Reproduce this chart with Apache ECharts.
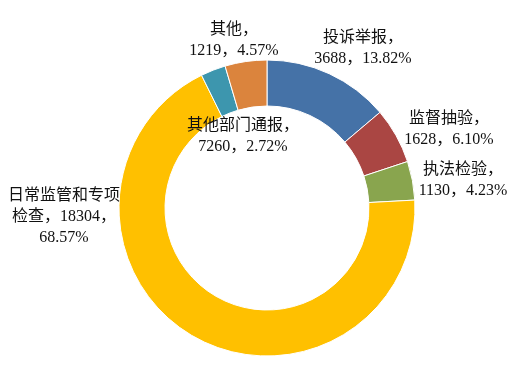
<!DOCTYPE html>
<html><head><meta charset="utf-8">
<script src="https://cdn.jsdelivr.net/npm/echarts@6/dist/echarts.min.js"></script>
<style>html,body{margin:0;padding:0;background:#fff}#c{width:520px;height:367px}</style>
</head><body><div id="c"></div>
<script>
const categories = ['投诉举报', '监督抽验', '执法检验', '日常监管和专项检查', '其他部门通报', '其他'];
const counts = ['3688', '1628', '1130', '18304', '7260', '1219'];
const percents = [13.82, 6.10, 4.23, 68.57, 2.72, 4.57];
const colors = ['#4572A7', '#AA4643', '#89A54E', '#FFC000', '#3D96AE', '#DB843D'];

const labelPos = [
  [363, 48], [449, 129], [463, 180], [64, 217], [243, 136], [234, 40]
];

function labelText(i) {
  const name = categories[i];
  const pct = percents[i].toFixed(2) + '%';
  if (name.length > 7) {
    return name.slice(0, 7) + '\n' + name.slice(7) + '，' + counts[i] + '，\n' + pct;
  }
  return name + '，\n' + counts[i] + '，' + pct;
}

const chart = echarts.init(document.getElementById('c'));
chart.setOption({
  animation: false,
  series: [{
    type: 'pie',
    center: [267, 208],
    radius: [102, 148],
    startAngle: 90,
    clockwise: true,
    data: categories.map((n, i) => ({ name: n, value: percents[i], itemStyle: { color: colors[i] } })),
    itemStyle: { borderColor: '#fff', borderWidth: 1 },
    label: {
      show: true,
      position: 'inside',
      formatter: p => labelText(p.dataIndex),
      fontSize: 16,
      lineHeight: 21,
      color: '#111',
      overflow: 'none',
      fontFamily: '"Liberation Serif", "Noto Sans CJK SC", serif',
      align: 'center'
    },
    labelLine: { show: false },
    labelLayout: p => ({ x: labelPos[p.dataIndex][0], y: labelPos[p.dataIndex][1], align: 'center', verticalAlign: 'middle', rotate: 0 })
  }]
});
</script></body></html>
